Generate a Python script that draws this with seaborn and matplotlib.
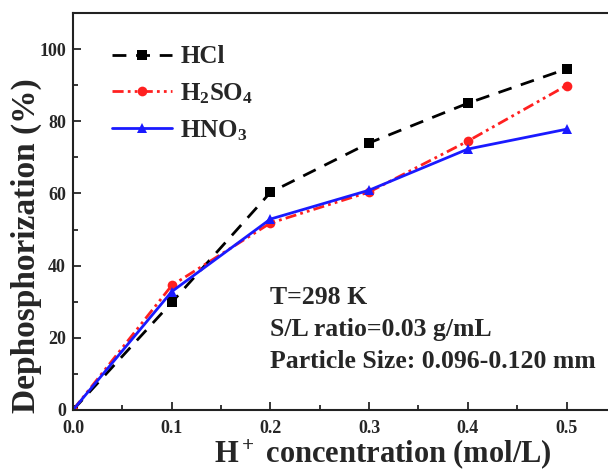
import pandas as pd
import matplotlib
matplotlib.use('Agg')
import matplotlib.pyplot as plt
import seaborn as sns
from matplotlib.ticker import MultipleLocator, FormatStrFormatter

sns.set_style("ticks")
plt.rcParams['font.family'] = ['Liberation Serif', 'DejaVu Serif']
plt.rcParams['font.weight'] = 'bold'
plt.rcParams['mathtext.fontset'] = 'custom'
plt.rcParams['mathtext.rm'] = 'Liberation Serif:bold'
plt.rcParams['mathtext.it'] = 'Liberation Serif:bold'
plt.rcParams['mathtext.bf'] = 'Liberation Serif:bold'

# 数据
conc = [0.0, 0.1, 0.2, 0.3, 0.4, 0.5]
hcl = [0, 29.8, 60.3, 74.0, 85.0, 94.5]
h2so4 = [0, 34.5, 51.8, 60.4, 74.5, 89.9]
hno3 = [0, 32.8, 52.9, 60.9, 72.3, 77.8]
acids = ['HCl', 'H$_2$SO$_4$', 'HNO$_3$']

data = pd.DataFrame({
    'conc': conc * 3,
    'value': hcl + h2so4 + hno3,
    'acid': [acids[0]] * 6 + [acids[1]] * 6 + [acids[2]] * 6,
})

fig = plt.figure(figsize=(6.08, 4.71), dpi=100)
ax = fig.add_axes([73 / 608, 61 / 471, 1 - 73 / 608, (410 - 13) / 471])

sns.lineplot(
    x='conc', y='value', hue='acid', style='acid', data=data, ax=ax,
    palette={acids[0]: 'black', acids[1]: '#ff2020', acids[2]: '#1a1aff'},
    dashes={acids[0]: (5, 3.5), acids[1]: (4, 1.5, 1, 1.5, 1, 1.5), acids[2]: ''},
    markers={acids[0]: 's', acids[1]: 'o', acids[2]: '^'},
    markersize=7, markeredgewidth=0, linewidth=2,
)

ax.set_xlim(0, 0.542)
ax.set_ylim(0, 110)
ax.xaxis.set_major_locator(MultipleLocator(0.1))
ax.xaxis.set_minor_locator(MultipleLocator(0.05))
ax.yaxis.set_major_locator(MultipleLocator(20))
ax.yaxis.set_minor_locator(MultipleLocator(10))
ax.tick_params(which='both', direction='in', width=1.3, labelsize=13)
ax.tick_params(which='major', length=6)
ax.tick_params(which='minor', length=3.5)
ax.tick_params(axis='x', pad=7)
ax.tick_params(axis='y', pad=5)
ax.xaxis.set_major_formatter(FormatStrFormatter('%.1f'))
ax.spines['right'].set_visible(False)
for s in ['left', 'bottom', 'top']:
    ax.spines[s].set_linewidth(1.5)
    ax.spines[s].set_color('#222222')

ax.set_xlabel('H$^+$ concentration (mol/L)', fontsize=22, fontweight='bold')
ax.set_ylabel('Dephosphorization (%)', fontsize=24, fontweight='bold')
ax.xaxis.set_label_coords(0.58, -0.07)
ax.yaxis.set_label_coords(-0.058, 0.413)

leg = ax.legend(loc='upper left', bbox_to_anchor=(0.03, 0.975), frameon=False,
                fontsize=18, handlelength=2.4, handletextpad=0.35, labelspacing=0.5)
leg.set_title(None)

ax.text(0.2, 31.3, 'T=298 K', fontsize=18.5, fontweight='bold', va='center')
ax.text(0.2, 22.4, 'S/L ratio=0.03 g/mL', fontsize=18.5, fontweight='bold', va='center')
ax.text(0.2, 13.3, 'Particle Size: 0.096-0.120 mm', fontsize=18.5, fontweight='bold', va='center')

plt.savefig('out.png', dpi=100)
